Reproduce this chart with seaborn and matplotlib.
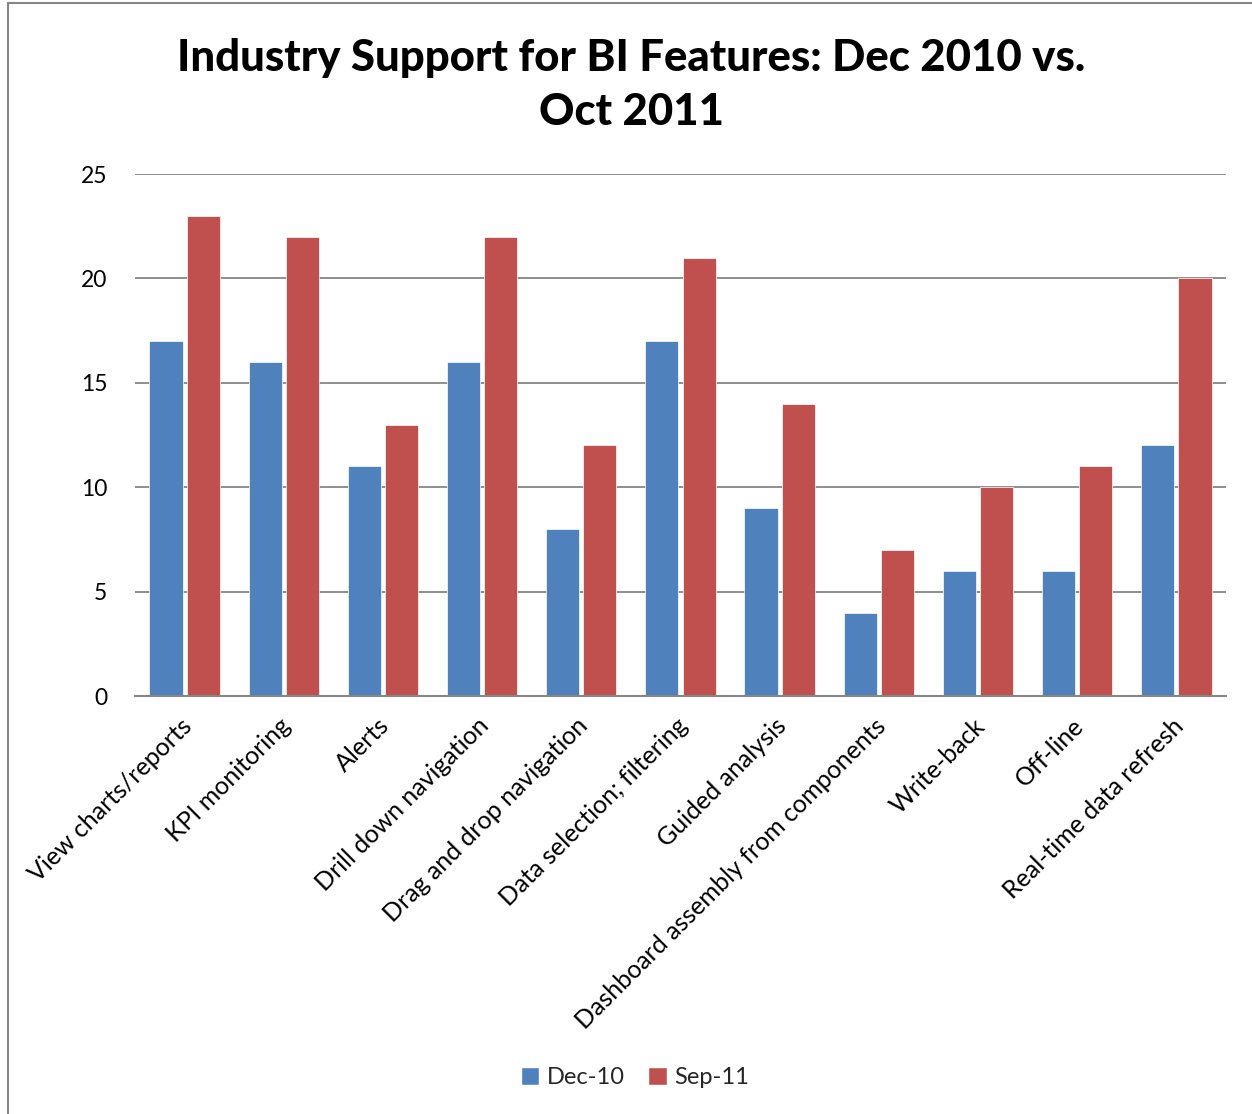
import matplotlib
matplotlib.use("Agg")
import matplotlib.pyplot as plt
import matplotlib.transforms as mtransforms
from matplotlib.patches import Patch, Rectangle
import seaborn as sns
import pandas as pd

features = [
    "View charts/reports", "KPI monitoring", "Alerts", "Drill down navigation",
    "Drag and drop navigation", "Data selection; filtering", "Guided analysis",
    "Dashboard assembly from components", "Write-back", "Off-line",
    "Real-time data refresh",
]
dec_10 = [17, 16, 11, 16, 8, 17, 9, 4, 6, 6, 12]
sep_11 = [23, 22, 13, 22, 12, 21, 14, 7, 10, 11, 20]
series = ["Dec-10", "Sep-11"]
colors = ["#4F81BD", "#C0504D"]

df = pd.DataFrame({
    "feature": features * 2,
    "count": dec_10 + sep_11,
    "series": [series[0]] * len(features) + [series[1]] * len(features),
})

sns.set_theme(style="white")
plt.rcParams["font.family"] = ["Lato", "DejaVu Sans"]

fig = plt.figure(figsize=(12.52, 11.14), dpi=100)
ax = fig.add_axes([0.1078, 0.3752, 0.8714, 0.4686])

sns.barplot(data=df, x="feature", y="count", hue="series", order=features,
            hue_order=series, palette=colors, saturation=1, width=0.75,
            gap=0.11, ax=ax, legend=False, edgecolor="#FFFFFF",
            linewidth=0.5, errorbar=None)

ax.set_ylim(0, 25)
ax.set_yticks(range(0, 26, 5))
ax.set_xlim(-0.5, len(features) - 0.5)
ax.yaxis.grid(True, color="#868686", linewidth=1.3)
ax.set_axisbelow(True)
for side in ["top", "right", "left"]:
    ax.spines[side].set_visible(False)
ax.spines["bottom"].set_color("#868686")
ax.spines["bottom"].set_linewidth(1.5)
ax.set_xlabel("")
ax.set_ylabel("")
ax.tick_params(axis="y", length=0, pad=20, labelsize=16.5, labelcolor="black")
ax.tick_params(axis="x", length=0, pad=13, labelsize=18, labelcolor="black")
shift = mtransforms.ScaledTranslation(-5 / 100, 0, fig.dpi_scale_trans)
for lbl in ax.get_xticklabels():
    lbl.set_rotation(45)
    lbl.set_ha("right")
    lbl.set_rotation_mode("anchor")
    lbl.set_transform(lbl.get_transform() + shift)

fig.text(0.504, 0.924, "Industry Support for BI Features: Dec 2010 vs.\nOct 2011",
         ha="center", va="center", fontsize=31.5, fontweight="black",
         linespacing=1.42, color="black")

handles = [Patch(facecolor=c, label=s) for c, s in zip(colors, series)]
fig.legend(handles=handles, loc="center", bbox_to_anchor=(0.507, 0.033),
           ncol=2, frameon=False, fontsize=17, handlelength=0.8,
           handleheight=0.8, handletextpad=0.3, columnspacing=1.0)

# outer chart border
fig.patches.append(Rectangle((8 / 1252, -0.01), 1.02, 1 - 3 / 1114 + 0.01,
                             transform=fig.transFigure, fill=False,
                             edgecolor="#868686", linewidth=1.5))

fig.savefig("out.png", dpi=100, facecolor="white")
